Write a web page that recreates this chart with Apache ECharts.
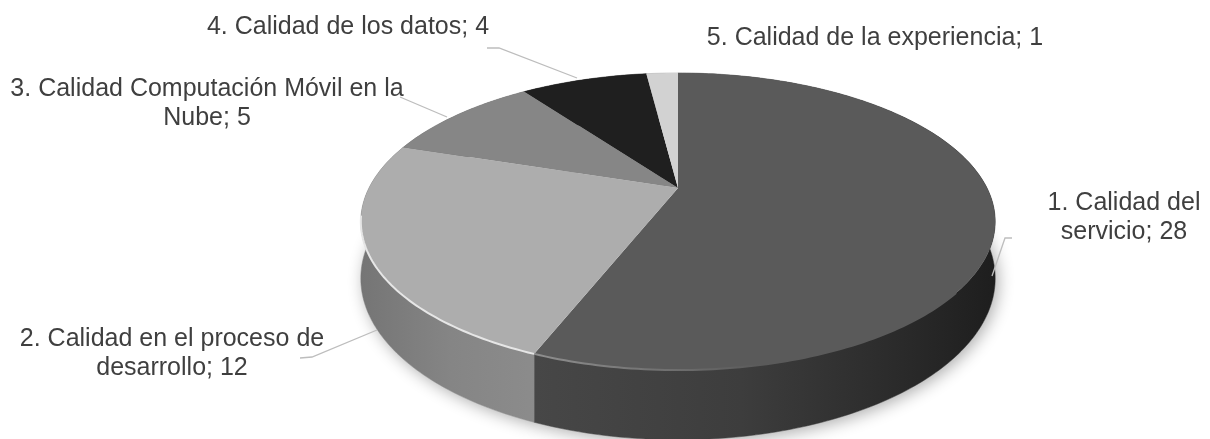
<!DOCTYPE html>
<html>
<head>
<meta charset="utf-8">
<style>
html,body{margin:0;padding:0;background:#fff;}
#c{width:1210px;height:439px;filter:blur(0.45px);}
</style>
<script src="https://cdn.jsdelivr.net/npm/echarts@6/dist/echarts.min.js"></script>
</head>
<body>
<div id="c"></div>
<script>
// ---- data ----
const categories = ['1. Calidad del servicio','2. Calidad en el proceso de desarrollo','3. Calidad Computación Móvil en la Nube','4. Calidad de los datos','5. Calidad de la experiencia'];
const values = [28, 12, 5, 4, 1];
const labelLines = [['1. Calidad del','servicio; 28'],['2. Calidad en el proceso de','desarrollo; 12'],['3. Calidad Computación Móvil en la','Nube; 5'],['4. Calidad de los datos; 4'],['5. Calidad de la experiencia; 1']];

// ---- style / layout ----
const topColors = ['#5a5a5a','#adadad','#868686','#1f1f1f','#d2d2d2'];
const labelCenters = [[1124,203],[172,339],[207,89],[348,27],[875,38]];
const leaders = [
  [[1012,238],[1005,238],[992,276]],
  [[300,358],[312,357],[377,330]],
  [[400,97],[447,117]],
  [[487,48],[499,48],[577,78]],
  []
];
const view = {cx:678, cy:188, a:141, b:309, k:0.2256, depth:54};
const total = values.reduce((s,v)=>s+v,0);
const starts = values.map((v,i)=>values.slice(0,i).reduce((s,x)=>s+x,0));

// perspective projection of a point on the unit disc; frac measured clockwise from the far side
function proj(frac, r, drop){
  const t = frac*2*Math.PI, u = r*Math.sin(t), v = -r*Math.cos(t), w = 1 - view.k*v;
  return [view.cx + view.b*u/w, view.cy + view.a*v/w + (drop?view.depth/w:0)];
}
function arc(f0,f1,drop){
  const n = Math.max(2,Math.ceil((f1-f0)*360)), p=[];
  for(let i=0;i<=n;i++) p.push(proj(f0+(f1-f0)*i/n,1,drop));
  return p;
}
function hGrad(x0,x1,stops){
  return {type:'linear',x:x0,y:0,x2:x1,y2:0,global:true,
    colorStops:stops.map(s=>({offset:s[0],color:s[1]}))};
}
const sideFills = [
  hGrad(534,995,[[0,'#474747'],[0.45,'#3d3d3d'],[0.8,'#2a2a2a'],[1,'#1e1e1e']]),
  hGrad(361,541,[[0,'#757575'],[0.5,'#858585'],[1,'#8c8c8c']]),
  '#6a6a6a','#181818','#aaaaaa'
];
const rims = [
  {f0:0.36,f1:0.56,color:hGrad(534,760,[[0,'#8f8f8f'],[1,'#5a5a5a']])},
  {f0:0.56,f1:0.72,color:'#e6e6e6'}
];
const sliceData = values.map((v,i)=>[v,starts[i],i]);
function range(api){
  const v = api.value(0), s = api.value(1);
  return [s/total,(s+v)/total,api.value(2)];
}

const option = {
  animation:false,
  backgroundColor:'#ffffff',
  series:[
    { // soft shadow under the pie
      type:'custom',coordinateSystem:'none',silent:true,data:sliceData,z:1,
      renderItem(p,api){
        const [f0,f1]=range(api);
        return {type:'polygon',shape:{points:[proj(0,0,true)].concat(arc(f0,f1,true))},
          style:{fill:'#ffffff',shadowBlur:16,shadowColor:'rgba(0,0,0,0.32)',shadowOffsetY:3,shadowOffsetX:3}};
      }
    },
    { // side walls
      type:'custom',coordinateSystem:'none',silent:true,data:sliceData,z:2,
      renderItem(p,api){
        const [f0,f1,i]=range(api);
        return {type:'polygon',shape:{points:arc(f0,f1,false).concat(arc(f0,f1,true).reverse())},
          style:{fill:sideFills[i],stroke:sideFills[i],lineWidth:0.5}};
      }
    },
    { // top faces
      type:'custom',coordinateSystem:'none',name:'Calidad',data:sliceData,z:3,
      encode:{value:0},
      renderItem(p,api){
        const [f0,f1,i]=range(api);
        return {type:'polygon',shape:{points:[proj(0,0,false)].concat(arc(f0,f1,false))},
          style:{fill:topColors[i]}};
      }
    },
    { // bevel highlight on the near rim
      type:'custom',coordinateSystem:'none',silent:true,data:rims.map((r,i)=>[i]),z:4,
      renderItem(p,api){
        const r=rims[api.value(0)];
        return {type:'polyline',shape:{points:arc(r.f0,r.f1,false)},
          style:{fill:'none',stroke:r.color,lineWidth:2}};
      }
    },
    { // data labels and leader lines
      type:'custom',coordinateSystem:'none',silent:true,data:sliceData,z:5,
      renderItem(p,api){
        const i=api.value(2), ch=[];
        if(leaders[i].length) ch.push({type:'polyline',shape:{points:leaders[i]},
          style:{fill:'none',stroke:'#bdbdbd',lineWidth:1.3}});
        labelLines[i].forEach((t,j)=>ch.push({type:'text',
          style:{text:t,x:labelCenters[i][0],y:labelCenters[i][1]+j*29,align:'center',verticalAlign:'middle',
            fill:'#3f3f3f',font:'25px "Liberation Sans", Arial, sans-serif'}}));
        return {type:'group',children:ch};
      }
    }
  ]
};
const chart = echarts.init(document.getElementById('c'),null,{renderer:'canvas'});
chart.setOption(option);
</script>
</body>
</html>
